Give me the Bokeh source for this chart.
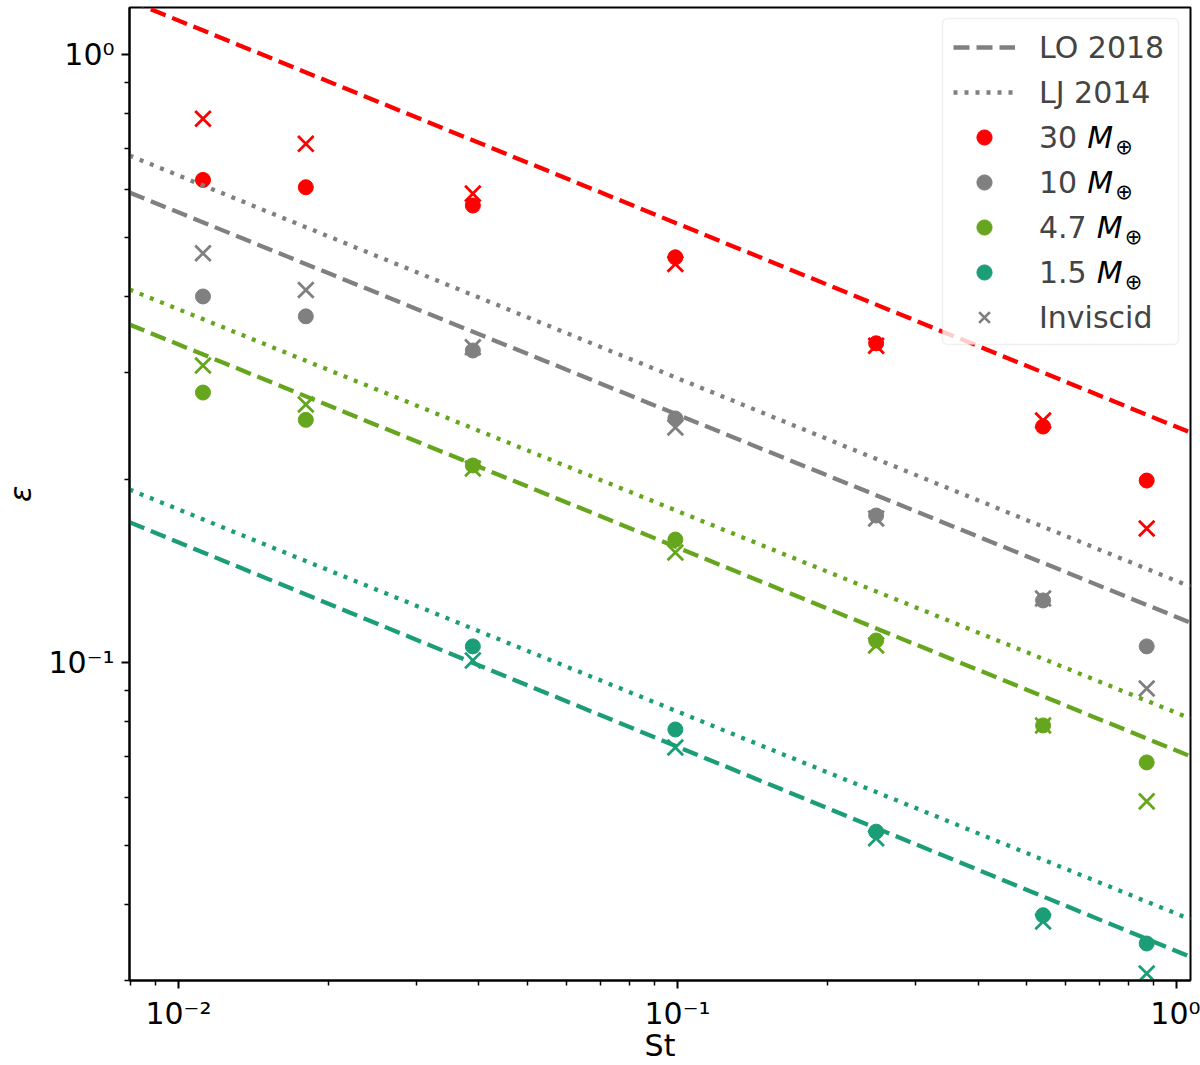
from bokeh.plotting import figure
from bokeh.models import (FixedTicker, Legend, LegendItem, Label, Range1d,
                          BoxAnnotation)
from bokeh.embed import file_html
from bokeh.resources import INLINE

# Stokes numbers of the runs
st = [0.0112, 0.0180, 0.0389, 0.0990, 0.250, 0.540, 0.871]
st_1p5 = [0.0389, 0.0990, 0.250, 0.540, 0.871]

# dust-to-gas enhancement: viscous runs (circles) and inviscid runs (crosses)
eps_30 = [0.622, 0.605, 0.5645, 0.464, 0.335, 0.2444, 0.1992]
eps_30_inv = [0.784, 0.713, 0.5905, 0.4525, 0.332, 0.250, 0.1661]
eps_10 = [0.400, 0.371, 0.326, 0.252, 0.1745, 0.1265, 0.1063]
eps_10_inv = [0.471, 0.410, 0.330, 0.2435, 0.1725, 0.1274, 0.0906]
eps_4p7 = [0.278, 0.2507, 0.2109, 0.1593, 0.1087, 0.0788, 0.0685]
eps_4p7_inv = [0.308, 0.2657, 0.2085, 0.1517, 0.1067, 0.0788, 0.0591]
eps_1p5 = [0.1063, 0.0776, 0.0527, 0.0384, 0.0345]
eps_1p5_inv = [0.1008, 0.0725, 0.0514, 0.0375, 0.0308]

# model power laws, values at the two ends of the St axis
st_model = [0.00798, 1.066]
lo_30 = [1.227, 0.2389]
lo_10 = [0.5929, 0.1163]
lo_4p7 = [0.3597, 0.0701]
lo_1p5 = [0.1701, 0.0328]
lj_10 = [0.6821, 0.1333]
lj_4p7 = [0.4107, 0.0809]
lj_1p5 = [0.1925, 0.0378]

mass_labels = ["30", "10", "4.7", "1.5"]

# decade ticks and their labels
x_major = [0.01, 0.1, 1.0]
x_tick_labels = ["10\u207b\u00b2", "10\u207b\u00b9", "10\u2070"]
y_major = [0.1, 1.0]
y_tick_labels = ["10\u207b\u00b9", "10\u2070"]

RED = "#ff0000"
GRAY = "#808080"
GREEN = "#66a61e"
TEAL = "#1b9e77"

FONT = "DejaVu Sans"
DASH = "16 7"
DOT = "4 7"
LW = 4.3

p = figure(width=1200, height=1065, x_axis_type="log", y_axis_type="log",
           x_range=Range1d(0.00798, 1.066), y_range=Range1d(0.02999, 1.195),
           output_backend="svg", toolbar_location=None,
           min_border_left=127, min_border_right=10,
           min_border_top=7, min_border_bottom=85)
p.background_fill_color = "white"
p.border_fill_color = "white"
p.grid.visible = False
p.outline_line_color = "black"
p.outline_line_width = 2

# scatter points (drawn beneath the model lines)
def points(x, y, inv, color):
    r = p.scatter(x, y, marker="circle", size=15, fill_color=color, line_color=color)
    rx = p.scatter(x, inv, marker="x", size=22, line_color=color, line_width=2.8)
    return r, rx

r30, r30x = points(st, eps_30, eps_30_inv, RED)
r10, r10x = points(st, eps_10, eps_10_inv, GRAY)
r4p7, r4p7x = points(st, eps_4p7, eps_4p7_inv, GREEN)
r1p5, r1p5x = points(st_1p5, eps_1p5, eps_1p5_inv, TEAL)

# model lines: LO 2018 dashed, LJ 2014 dotted
p.line(st_model, lo_30, line_color=RED, line_width=LW, line_dash=DASH)
lo_key = p.line(st_model, lo_10, line_color=GRAY, line_width=LW, line_dash=DASH)
p.line(st_model, lo_4p7, line_color=GREEN, line_width=LW, line_dash=DASH)
p.line(st_model, lo_1p5, line_color=TEAL, line_width=LW, line_dash=DASH)
lj_key = p.line(st_model, lj_10, line_color=GRAY, line_width=LW, line_dash=DOT)
p.line(st_model, lj_4p7, line_color=GREEN, line_width=LW, line_dash=DOT)
p.line(st_model, lj_1p5, line_color=TEAL, line_width=LW, line_dash=DOT)

# axes
x_minor = [m * 10.0 ** e for e in (-3, -2, -1, 0) for m in range(2, 10)]
y_minor = [m * 10.0 ** e for e in (-2, -1, 0) for m in range(2, 10)]
p.xaxis.ticker = FixedTicker(ticks=x_major, minor_ticks=x_minor)
p.yaxis.ticker = FixedTicker(ticks=y_major, minor_ticks=y_minor)
p.xaxis.major_label_overrides = dict(zip(x_major, x_tick_labels))
p.yaxis.major_label_overrides = dict(zip(y_major, y_tick_labels))
for ax in (p.xaxis, p.yaxis):
    ax.major_tick_out = 8
    ax.major_tick_in = 0
    ax.minor_tick_out = 5
    ax.minor_tick_in = 0
    ax.major_tick_line_width = 2
    ax.minor_tick_line_width = 1.5
    ax.axis_line_width = 2
    ax.major_label_text_font = FONT
    ax.major_label_text_font_size = "30px"
    ax.major_label_text_color = "black"
    ax.major_label_standoff = 7
    ax.axis_label_text_font = FONT
    ax.axis_label_text_font_size = "30px"
    ax.axis_label_text_color = "black"
p.xaxis.axis_label = "St"
p.xaxis.axis_label_text_font_style = "normal"
p.xaxis.axis_label_standoff = -6
p.yaxis.axis_label = "\u03b5"
p.yaxis.axis_label_text_font_style = "italic"
p.yaxis.axis_label_standoff = 7

# legend: translucent frame, then the entries on top of it
frame_left, frame_bottom = 127, 980
p.add_layout(BoxAnnotation(left=940 - frame_left, right=1176 - frame_left,
                           top=frame_bottom - 18, bottom=frame_bottom - 344,
                           left_units="screen", right_units="screen",
                           top_units="screen", bottom_units="screen",
                           fill_color="white", fill_alpha=0.8,
                           line_color="#cccccc", line_width=1.5, border_radius=5))

legend = Legend(
    items=[
        LegendItem(label="LO 2018", renderers=[lo_key]),
        LegendItem(label="LJ 2014", renderers=[lj_key]),
        LegendItem(label=mass_labels[0], renderers=[r30]),
        LegendItem(label=mass_labels[1], renderers=[r10]),
        LegendItem(label=mass_labels[2], renderers=[r4p7]),
        LegendItem(label=mass_labels[3], renderers=[r1p5]),
        LegendItem(label="Inviscid", renderers=[r10x]),
    ],
    location=(824, 644), margin=0, padding=9, spacing=7,
    label_height=38, glyph_height=38, glyph_width=62, label_standoff=24,
    label_text_font=FONT, label_text_font_size="30px",
    border_line_color=None, background_fill_alpha=0,
)
p.add_layout(legend)

# italic M with a subscript Earth symbol after each mass value
text_left = 1037
num_width = {"30": 47.7, "10": 47.7, "4.7": 57.2, "1.5": 57.2}
for i, lab in enumerate(mass_labels):
    row_y = 47 + 45 * (i + 2)
    mx = text_left + num_width[lab]
    p.add_layout(Label(x=mx - frame_left, y=frame_bottom - row_y,
                       x_units="screen", y_units="screen", text="M",
                       text_font=FONT, text_font_style="italic",
                       text_font_size="30px", text_baseline="middle",
                       text_align="left", text_color="black", level="overlay"))
    p.add_layout(Label(x=mx + 28 - frame_left, y=frame_bottom - row_y - 9,
                       x_units="screen", y_units="screen", text="\u2295",
                       text_font=FONT, text_font_size="21px",
                       text_baseline="middle", text_align="left",
                       text_color="black", level="overlay"))

open("out.html", "w").write(file_html(p, INLINE))
